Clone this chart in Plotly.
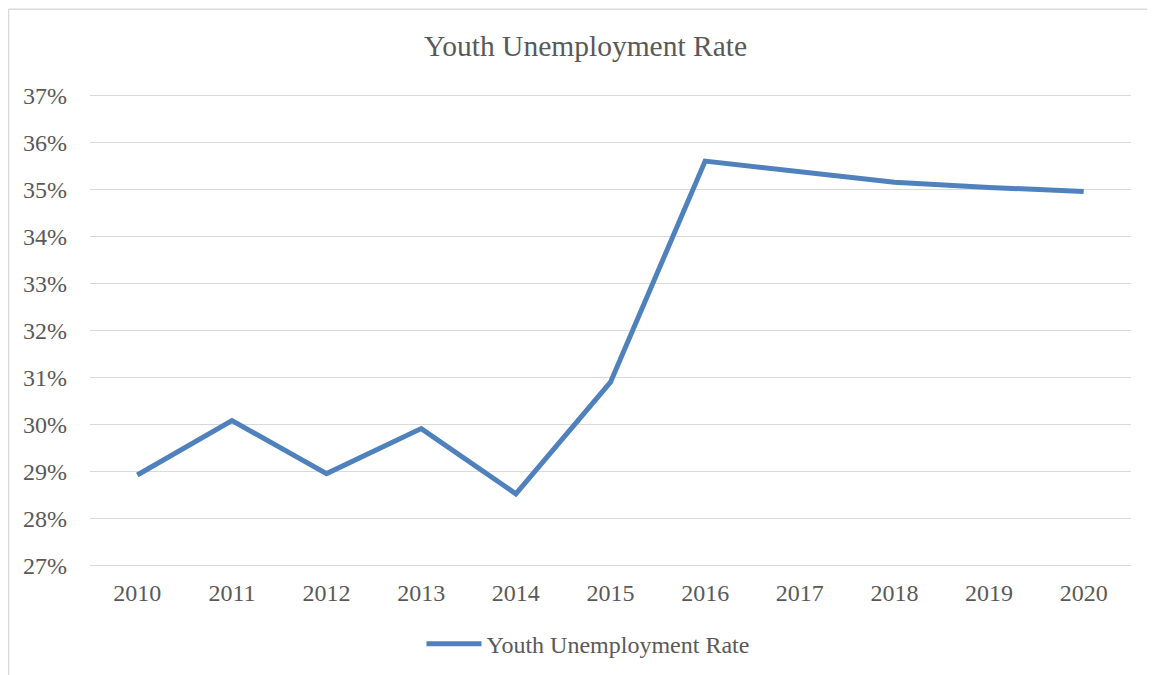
import plotly.graph_objects as go

years = ["2010", "2011", "2012", "2013", "2014", "2015", "2016", "2017", "2018", "2019", "2020"]
rates = [28.92, 30.08, 28.95, 29.91, 28.52, 30.90, 35.61, 35.38, 35.16, 35.05, 34.96]
y_ticks = [27, 28, 29, 30, 31, 32, 33, 34, 35, 36, 37]
y_tick_labels = [f"{v}%" for v in y_ticks]
series_name = "Youth Unemployment Rate"
title_text = "Youth Unemployment Rate"

FONT = "Liberation Serif, Times New Roman, serif"
TEXT = "#595959"
GRID = "#D9D9D9"
BLUE = "#4F81BD"

OFF = 8  # page body margin
PAD = 0.04  # % of range padding so edge gridlines are drawn
PXPER = 46.9
W, H = 1155 - OFF, 675 - OFF
L, R = 90 - OFF, 24
T = 96 - OFF - PAD * PXPER
B = 110 - PAD * PXPER
pw, ph = W - L - R, H - T - B

fig = go.Figure()
fig.add_trace(go.Scatter(
    x=years, y=rates, mode="lines", name=series_name,
    line=dict(color=BLUE, width=5), showlegend=True,
))

def px_to_paper_x(px):
    return (px - OFF - L) / pw

def px_to_paper_y(py):
    return (H - B - (py - OFF)) / ph

fig.update_layout(
    width=W, height=H,
    margin=dict(l=L, r=R, t=T, b=B, autoexpand=False),
    paper_bgcolor="white", plot_bgcolor="white",
    font=dict(family=FONT, color=TEXT, size=24),
    title=dict(text=title_text, font=dict(family=FONT, size=29.5, color=TEXT),
               x=(585.5 - OFF) / W, xref="container", xanchor="center",
               y=1 - (46 - OFF) / H, yref="container", yanchor="middle"),
    xaxis=dict(type="category", range=[-0.5, 10.5], showgrid=False, zeroline=False,
               showline=False, ticks="", tickfont=dict(size=24, color=TEXT),
               ticklabelstandoff=9),
    yaxis=dict(range=[27 - PAD, 37 + PAD], tickvals=y_ticks, ticktext=y_tick_labels,
               showgrid=True, gridcolor=GRID, gridwidth=1.3, zeroline=False,
               showline=False, ticks="", tickfont=dict(size=24, color=TEXT),
               ticklabelstandoff=22),
    showlegend=True,
    legend=dict(orientation="h", x=px_to_paper_x(588), xanchor="center",
                y=px_to_paper_y(644), yanchor="middle",
                font=dict(family=FONT, size=24, color=TEXT),
                itemwidth=55, bgcolor="rgba(0,0,0,0)"),
    shapes=[
        dict(type="line", xref="paper", yref="paper",
             x0=px_to_paper_x(8.5), x1=px_to_paper_x(1170),
             y0=px_to_paper_y(9.5), y1=px_to_paper_y(9.5),
             line=dict(color=GRID, width=1.5)),
        dict(type="line", xref="paper", yref="paper",
             x0=px_to_paper_x(8.5), x1=px_to_paper_x(8.5),
             y0=px_to_paper_y(9.5), y1=px_to_paper_y(690),
             line=dict(color=GRID, width=1.5)),
    ],
)

fig.write_html("out.html")
